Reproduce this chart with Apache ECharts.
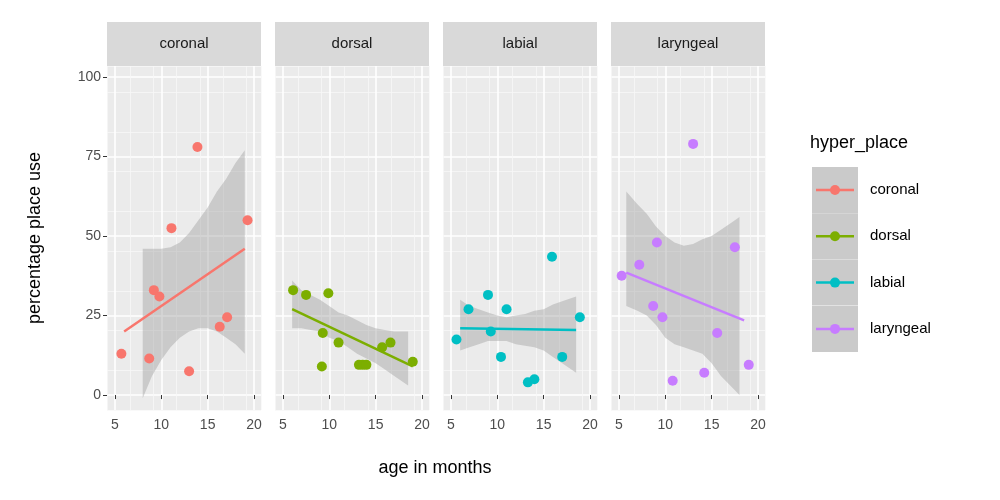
<!DOCTYPE html><html><head><meta charset="utf-8"><script src="https://cdn.jsdelivr.net/npm/echarts@6/dist/echarts.min.js"></script></head><body style="margin:0"><div id="c" style="width:1000px;height:500px"></div><script>
const panels=['coronal','dorsal','labial','laryngeal'];
const colors=['#F8766D','#7CAE00','#00BFC4','#C77CFF'];
const yTicks=[0,25,50,75,100];
const xTicks=[5,10,15,20];
const coronalPts=[[5.7,13],[8.7,11.5],[9.2,33],[9.8,31],[11.1,52.5],[13,7.5],[13.9,78],[16.3,21.5],[17.1,24.5],[19.3,55]];
const dorsalPts=[[6.1,33],[7.5,31.5],[9.2,9],[9.3,19.5],[9.9,32],[11,16.5],[13.2,9.5],[13.6,9.5],[14,9.5],[15.7,15],[16.6,16.5],[19,10.5]];
const labialPts=[[5.6,17.5],[6.9,27],[9,31.5],[9.3,20],[10.4,12],[11,27],[13.3,4],[14,5],[15.9,43.5],[17,12],[18.9,24.5]];
const laryngealPts=[[5.3,37.5],[7.2,41],[8.7,28],[9.1,48],[9.7,24.5],[10.8,4.5],[13,79],[14.2,7],[15.6,19.5],[17.5,46.5],[19,9.5]];
const coronalFit=[[6,20],[19,46]];
const dorsalFit=[[6,27],[19,9]];
const labialFit=[[6,21],[18.5,20.5]];
const laryngealFit=[[5.8,38.5],[18.5,23.5]];
// band: [x, lower, upper]
const coronalBand=[[8,-1,46],[9,6,46],[10,11,46],[11,15,46.5],[12,18,48],[13,20,51],[14,21,55],[15,21,59],[16,20,64],[17,18,68],[18,16,73],[19,13,77]];
const dorsalBand=[[6,21,36],[7,21,33],[8,20.5,31.5],[9,20,30],[10,18,28],[11,17,26],[12,15,25],[13,13,23.5],[14,11.5,22],[15,10,21],[16,8,20.5],[17,6,20],[18.5,3,20]];
const labialBand=[[6,14,30],[7,15,28],[8,16,27],[9,17,26],[10,17,25],[11,17,24.5],[12,16,25],[13,15.5,25.5],[14,15,26.5],[15,14,27],[16,12,28.5],[17,10,29.5],[18.5,7,31]];
const laryngealBand=[[5.8,28,64],[7,26.5,60],[8,25,57],[9,22,53],[10,18,50],[11,16,48],[12,15,47],[13,14,47.5],[14,13,49],[15,10,50],[16,6,52],[17,3,54],[18,0,56]];
const pts=[coronalPts,dorsalPts,labialPts,laryngealPts];
const fits=[coronalFit,dorsalFit,labialFit,laryngealFit];
const bands=[coronalBand,dorsalBand,labialBand,laryngealBand];
const lefts=[107,275,443,611], W=154;
const grid=[],xAxis=[],yAxis=[],series=[],graphic=[];
panels.forEach((p,i)=>{
 grid.push({left:lefts[i],top:66,width:W,height:344,show:true,backgroundColor:'#EBEBEB',borderWidth:0});
 xAxis.push({type:'value',gridIndex:i,min:4.15,max:20.75,interval:2.5,position:'bottom',
  axisLine:{show:false},axisTick:{show:false},
  splitLine:{show:true,lineStyle:{color:'#F7F7F7',width:0.8}},
  axisLabel:{show:false}});
 xAxis.push({type:'value',gridIndex:i,min:4.15,max:20.75,position:'bottom',
  axisLine:{show:false},axisTick:{show:true,length:4,customValues:xTicks,lineStyle:{color:'#333'}},
  axisLabel:{customValues:xTicks,color:'#4D4D4D',fontSize:14,margin:8},
  splitLine:{show:true,lineStyle:{color:'#fff',width:1.6}}});
 yAxis.push({type:'value',gridIndex:i,min:-4.7,max:103.5,interval:12.5,position:'left',
  axisLine:{show:false},axisTick:{show:false},axisLabel:{show:false},
  splitLine:{show:true,lineStyle:{color:'#F7F7F7',width:0.8}}});
 yAxis.push({type:'value',gridIndex:i,min:-4.7,max:103.5,position:'left',
  axisLine:{show:false},axisTick:{show:i==0,length:4,customValues:yTicks,lineStyle:{color:'#333'}},
  axisLabel:{show:i==0,customValues:yTicks,color:'#4D4D4D',fontSize:14,margin:6},
  splitLine:{show:true,lineStyle:{color:'#fff',width:1.6}}});
 graphic.push({type:'rect',shape:{x:lefts[i],y:22,width:W,height:44},style:{fill:'#D9D9D9'}});
 graphic.push({type:'text',x:lefts[i]+W/2,y:44,style:{text:p,fill:'#1A1A1A',font:'15px Arial, "Liberation Sans"',align:'center',verticalAlign:'middle'}});
 const b=bands[i];
 series.push({type:'custom',xAxisIndex:2*i,yAxisIndex:2*i,data:[0],silent:true,z:2,
  renderItem:(params,api)=>{
   const poly=b.map(r=>api.coord([r[0],r[2]])).concat(b.slice().reverse().map(r=>api.coord([r[0],r[1]])));
   return {type:'polygon',shape:{points:poly},style:{fill:'rgba(153,153,153,0.4)'}};
  }});
 series.push({type:'line',xAxisIndex:2*i,yAxisIndex:2*i,data:fits[i],showSymbol:false,z:3,
  lineStyle:{color:colors[i],width:2.5}});
 series.push({type:'scatter',xAxisIndex:2*i,yAxisIndex:2*i,data:pts[i],symbolSize:10,z:4,
  itemStyle:{color:colors[i],opacity:1}});
});
graphic.push({type:'text',x:435,y:468,style:{text:'age in months',fill:'#000',font:'18px Arial, "Liberation Sans"',align:'center',verticalAlign:'middle'}});
graphic.push({type:'text',x:35,y:238,rotation:Math.PI/2,style:{text:'percentage place use',fill:'#000',font:'18px Arial, "Liberation Sans"',align:'center',verticalAlign:'middle'}});
graphic.push({type:'text',x:810,y:143,style:{text:'hyper_place',fill:'#000',font:'18px Arial, "Liberation Sans"',verticalAlign:'middle'}});
panels.forEach((p,i)=>{
 const cy=190+i*46.3;
 graphic.push({type:'rect',shape:{x:812,y:cy-23,width:46,height:46},style:{fill:'#EBEBEB'}});
 graphic.push({type:'rect',shape:{x:812,y:cy-23,width:46,height:46},style:{fill:'rgba(153,153,153,0.4)'}});
 graphic.push({type:'line',shape:{x1:816,y1:cy,x2:854,y2:cy},style:{stroke:colors[i],lineWidth:2.5}});
 graphic.push({type:'circle',shape:{cx:835,cy:cy,r:5},style:{fill:colors[i]}});
 graphic.push({type:'text',x:870,y:cy,style:{text:p,fill:'#000',font:'15px Arial, "Liberation Sans"',verticalAlign:'middle'}});
});
const ch=echarts.init(document.getElementById('c'));
ch.setOption({animation:false,backgroundColor:'#fff',grid,xAxis,yAxis,series,graphic});
</script></body></html>
